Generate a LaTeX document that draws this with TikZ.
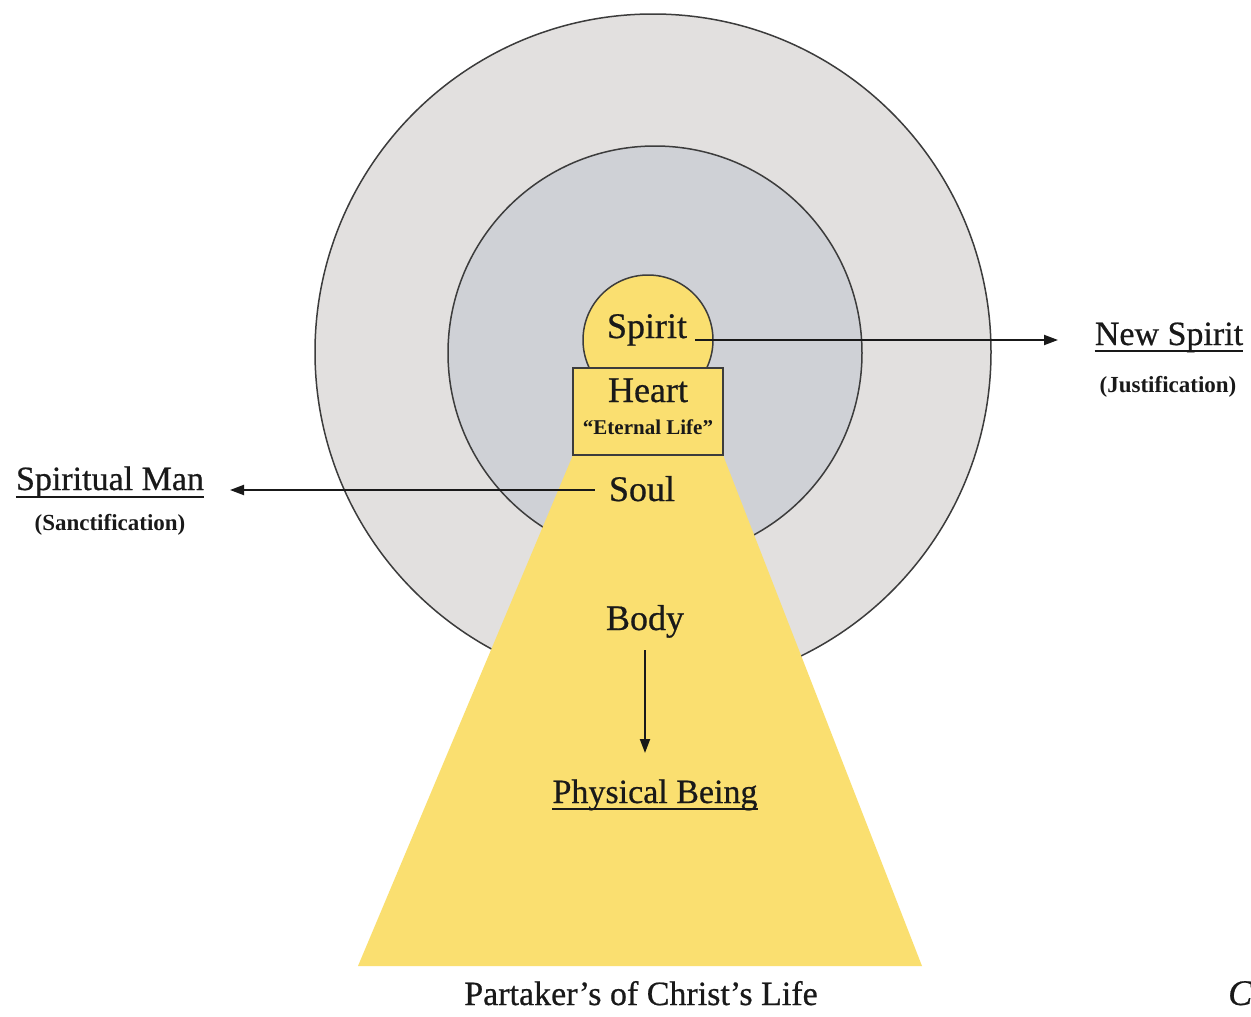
\documentclass[tikz,border=0pt]{standalone}
\usepackage{fontspec}
\setmainfont{Liberation Serif}
\newfontfamily\heavyserif[FakeBold=0.6]{Liberation Serif}
\usetikzlibrary{arrows.meta}
\definecolor{outerg}{RGB}{226,224,223}
\definecolor{innerg}{RGB}{207,209,214}
\definecolor{yel}{RGB}{250,223,112}
\definecolor{ink}{RGB}{25,25,25}
\definecolor{edgeg}{RGB}{60,60,60}
\begin{document}
\begin{tikzpicture}[x=1pt,y=-1pt,
  lbl/.style={inner sep=0pt, font=\heavyserif\fontsize{36}{40}\selectfont, text=ink},
  sub/.style={inner sep=0pt, font=\bfseries\fontsize{23}{26}\selectfont, text=ink},
  ring/.style={draw=edgeg, line width=1.5pt},
  arr/.style={-{Triangle[length=14pt,width=10pt]}, line width=2pt, draw=ink},
  ul/.style={line width=1.8pt, draw=ink}]
\useasboundingbox (0,0) rectangle (1251,1017);
\fill[white] (0,0) rectangle (1251,1017);
% rings
\filldraw[ring, fill=outerg] (653,352) circle[radius=338pt];
\filldraw[ring, fill=innerg] (655,353) circle[radius=207pt];
% cone
\fill[yel] (573,455) -- (723,455) -- (922,966) -- (358,966) -- cycle;
% spirit circle and heart box
\filldraw[ring, fill=yel] (648,340) circle[radius=65pt];
\filldraw[ring, fill=yel] (573,368) rectangle (723,455);
% labels
\node[lbl, anchor=base] (spirit) at (647,338) {Spirit};
\node[lbl, anchor=base] (heart) at (648,402) {Heart};
\node[sub, anchor=base, font=\bfseries\fontsize{21}{24}\selectfont] (eternal) at (648,434) {“Eternal Life”};
\node[lbl, anchor=base] (soul) at (642,501) {Soul};
\node[lbl, anchor=base] (body) at (645,630) {Body};
\node[lbl, anchor=base, font=\heavyserif\fontsize{34}{38}\selectfont] (phys) at (655,803) {Physical Being};
\node[lbl, anchor=base, font=\heavyserif\fontsize{34}{38}\selectfont] (newspirit) at (1169,345) {New Spirit};
\node[sub, anchor=base] (just) at (1168,392) {(Justification)};
\node[lbl, anchor=base, font=\heavyserif\fontsize{34}{38}\selectfont] (sman) at (110,490) {Spiritual Man};
\node[sub, anchor=base] (sanct) at (110,530) {(Sanctification)};
\node[lbl, anchor=base, font=\heavyserif\fontsize{34}{38}\selectfont] (partaker) at (641,1005) {Partaker’s of Christ’s Life};
\node[lbl, anchor=base west, font=\heavyserif\itshape\fontsize{36}{40}\selectfont] (cee) at (1228,1005) {C};
% underlines
\draw[ul] ([yshift=-6pt]newspirit.base west) -- ([yshift=-6pt]newspirit.base east);
\draw[ul] ([yshift=-7pt]sman.base west) -- ([yshift=-7pt]sman.base east);
\draw[ul] ([yshift=-6pt]phys.base west) -- ([yshift=-6pt]phys.base east);
% connectors
\coordinate (nsend) at (1058,340);
\coordinate (smend) at (230,490);
\coordinate (pbtop) at ([yshift=50pt]phys.base);
\draw[arr] ([xshift=8pt,yshift=-2pt]spirit.base east) -- (nsend);
\draw[arr, shorten <=14pt] (soul.west |- smend) -- (smend);
\draw[arr] ([yshift=-20pt]body.base) -- (body.base |- pbtop);
\end{tikzpicture}
\end{document}
